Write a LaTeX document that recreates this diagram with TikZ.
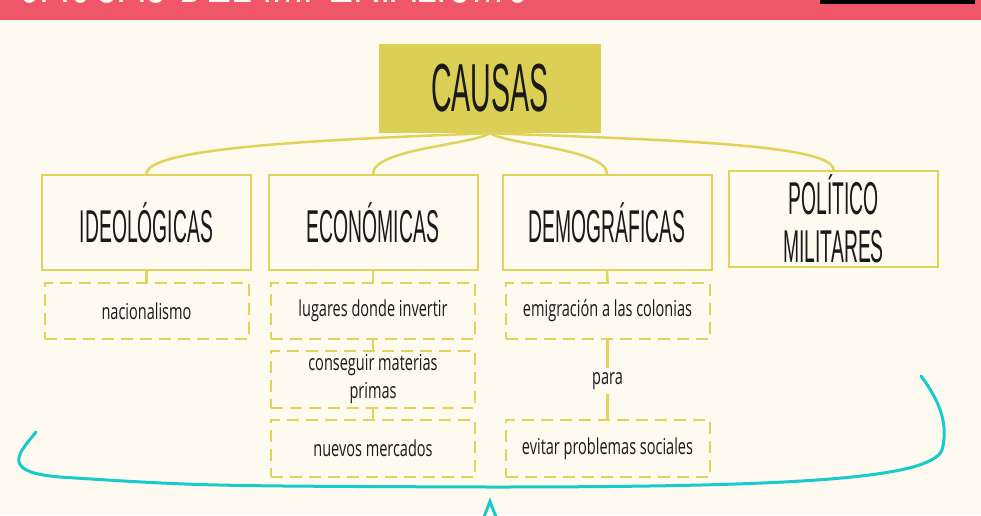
\documentclass[tikz,border=0pt]{standalone}
\usepackage{fontspec}
\setmainfont{Open Sans}
\newfontfamily\headfont[FakeStretch=0.42]{Liberation Sans}
\newfontfamily\bodyfont[FakeStretch=0.66]{Open Sans}
\usetikzlibrary{arrows.meta,positioning}
\definecolor{banner}{HTML}{EF5768}
\definecolor{paper}{HTML}{FEFAF0}
\definecolor{mustard}{HTML}{DBD055}
\definecolor{outline}{HTML}{E0D25A}
\definecolor{brace}{HTML}{17CBCB}
\definecolor{ink}{HTML}{1A1A1A}

\tikzset{
  rootbox/.style={fill=mustard, text=ink, minimum width=222pt, minimum height=89pt,
    font=\headfont\fontsize{68}{68}\selectfont},
  catbox/.style={draw=outline, line width=2pt, fill=paper, text=ink, minimum width=209pt,
    minimum height=95pt, align=center, font=\headfont\fontsize{46}{48}\selectfont},
  itembox/.style={draw=outline, line width=2pt, dash pattern=on 12pt off 7pt, text=ink,
    minimum width=204pt, minimum height=56pt, align=center,
    font=\bodyfont\fontsize{22}{28}\selectfont},
  link/.style={draw=outline, line width=2.5pt},
}

\begin{document}
\begin{tikzpicture}[x=1pt,y=-1pt]
  \useasboundingbox (0,0) rectangle (981,515);
  \clip (0,0) rectangle (981,515);
  \fill[paper] (0,0) rectangle (981,515);

  % Title banner
  \fill[banner] (0,0) rectangle (981,20);
  \node[anchor=base west, inner sep=0pt, text=paper,
    font=\headfont\fontsize{89}{89}\selectfont] (title) at (15,2) {CAUSAS DEL IMPERIALISMO};
  \fill[black] (820,0) rectangle (975,4);

  % Root
  \node[rootbox] (causas) at (490,88.5) {CAUSAS};

  % Categories
  \node[catbox] (ideo) at (146.5,222.5) {IDEOLÓGICAS};
  \node[catbox] (econ) at (373,222.5) {ECONÓMICAS};
  \node[catbox] (demo) at (607,222.5) {DEMOGRÁFICAS};
  \node[catbox, minimum height=96pt] (poli) at (833.5,219) {POLÍTICO\\MILITARES};

  % Branches from the root
  \draw[link] (causas.south) .. controls +(-190,7) and +(0,-25) .. (ideo.north);
  \draw[link] (causas.south) .. controls +(-20,12) and +(0,-25) .. (econ.north);
  \draw[link] (causas.south) .. controls +(20,12) and +(0,-25) .. (demo.north);
  \draw[link] (causas.south) .. controls +(190,7) and +(0,-25) .. (poli.north);

  % Items
  \node[itembox] (nacio) at (146.5,311) {nacionalismo};
  \node[itembox] (lugares) at (373,311) {lugares donde invertir};
  \node[itembox, minimum height=57pt] (materias) at (373,379.5) {conseguir materias\\primas};
  \node[itembox, minimum height=57pt] (mercados) at (373,448.5) {nuevos mercados};
  \node[itembox] (emigra) at (607.5,311) {emigración a las colonias};
  \node[itembox, minimum height=57pt] (evitar) at (607.5,448.5) {evitar problemas sociales};
  \node[text=ink, font=\bodyfont\fontsize{22}{28}\selectfont, inner sep=4pt] (para) at (607.5,381) {para};

  \draw[link] (ideo.south) -- (nacio.north);
  \draw[link] (econ.south) -- (lugares.north);
  \draw[link] (lugares.south) -- (materias.north);
  \draw[link] (materias.south) -- (mercados.north);
  \draw[link] (demo.south) -- (emigra.north);
  \draw[link] (emigra.south) -- (para.north);
  \draw[link] (para.south) -- (evitar.north);

  % Brace under everything
  \coordinate (bracemid) at (490,487);
  \coordinate (arrowtip) at (490,497);
  \coordinate (arrowfoot) at (490,570);
  \draw[brace, line width=3pt, line cap=round]
    (36,432) .. controls (20,452) and (-2,472) .. (60,477)
    .. controls (200,486) .. (bracemid)
    .. controls (780,487) and (930,480) .. (942,450)
    .. controls (950,420) and (935,395) .. (921,376);
  \draw[brace, line width=3pt, -{Triangle[open,length=30pt,width=22pt]}] (arrowfoot) -- (arrowtip);
\end{tikzpicture}
\end{document}
